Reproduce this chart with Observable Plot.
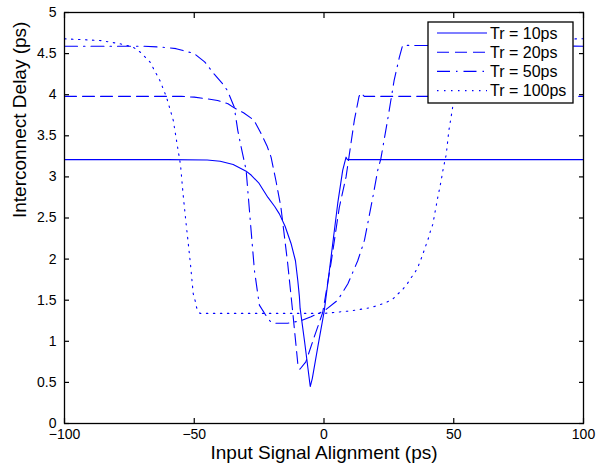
<!DOCTYPE html>
<html><head><meta charset="utf-8">
<script src="https://cdn.jsdelivr.net/npm/d3@7"></script>
<script src="https://cdn.jsdelivr.net/npm/@observablehq/plot@0.6"></script>
<style>body{margin:0;background:#fff;} svg{display:block}</style>
</head><body><div id="chart"></div>
<script>
const seriesNames = ["Tr = 10ps", "Tr = 20ps", "Tr = 50ps", "Tr = 100ps"];

const tr10X = [-100, -60, -45, -40, -35, -30, -28, -25, -21.6, -19, -17.2, -15, -12.7, -11, -10.1, -9.5, -9.2, -7.5, -5.3, -4.5, -2.4, 0.1, 2.7, 5.3, 7.2, 8.5, 9, 100];
const tr10Y = [3.21, 3.21, 3.205, 3.19, 3.15, 3.07, 3.02, 2.92, 2.75, 2.64, 2.55, 2.40, 2.19, 1.98, 1.74, 1.55, 1.40, 1.00, 0.45, 0.55, 0.93, 1.37, 2.02, 2.68, 3.08, 3.24, 3.21, 3.21];

const tr20X = [-100, -55, -50, -45, -41, -37, -34.6, -31, -27, -24.3, -22, -20.4, -18.5, -16.6, -14, -12, -10.1, -9.5, -9.3, -7, -3.8, -0.5, 2.7, 5.9, 8.5, 11.7, 13.5, 14.3, 15.5, 100];
const tr20Y = [3.98, 3.98, 3.97, 3.95, 3.93, 3.89, 3.84, 3.78, 3.69, 3.53, 3.38, 3.24, 2.95, 2.63, 1.95, 1.34, 0.73, 0.68, 0.66, 0.75, 1.05, 1.35, 1.95, 2.63, 3.0, 3.69, 3.98, 4.02, 3.98, 3.98];

const tr50X = [-100, -70, -63, -57, -50, -46, -42.3, -39, -37.2, -34.6, -33.2, -31.9, -30, -28.1, -26.8, -24.9, -22.3, -20.4, -18.5, -14, -8.9, -5, 0.1, 5.3, 9.2, 13, 15.6, 18.8, 20.7, 21.9, 24.5, 27, 29, 30.3, 100];
const tr50Y = [4.59, 4.59, 4.58, 4.56, 4.50, 4.40, 4.25, 4.13, 4.05, 3.85, 3.56, 3.36, 3.08, 2.35, 1.86, 1.44, 1.31, 1.23, 1.22, 1.22, 1.25, 1.30, 1.37, 1.50, 1.70, 1.98, 2.23, 2.75, 3.08, 3.22, 3.69, 4.17, 4.45, 4.60, 4.59];

const tr100X = [-100, -86.4, -78.7, -73.6, -70.9, -67.1, -63.2, -60.7, -58.1, -56.2, -55.3, -54.3, -53.2, -52.3, -51.4, -50.4, -49.7, -49.1, -47.8, -46, -20, 0, 10.4, 18.1, 23.8, 26.4, 28.3, 30.3, 32.1, 33.5, 35.1, 36.4, 37.4, 38.3, 39.3, 40.2, 41, 41.9, 42.9, 43.9, 45, 46, 47.1, 48.1, 49.4, 50.5, 51.5, 53, 55, 58, 65, 100];
const tr100Y = [4.68, 4.66, 4.62, 4.58, 4.52, 4.40, 4.17, 3.97, 3.69, 3.32, 3.15, 2.79, 2.45, 2.19, 1.92, 1.58, 1.50, 1.41, 1.34, 1.34, 1.34, 1.34, 1.37, 1.41, 1.47, 1.51, 1.57, 1.63, 1.70, 1.77, 1.84, 1.92, 2.0, 2.08, 2.17, 2.25, 2.34, 2.42, 2.59, 2.76, 2.93, 3.11, 3.27, 3.56, 3.81, 4.05, 4.3, 4.5, 4.6, 4.65, 4.67, 4.68];

const xTicks = [-100, -50, 0, 50, 100];
const yTicks = [0, 0.5, 1, 1.5, 2, 2.5, 3, 3.5, 4, 4.5, 5];
const xLabel = "Input Signal Alignment (ps)";
const yLabel = "Interconnect Delay (ps)";

// styles
const lineColor = "#0000ff";
const dashes = [undefined, "12,6", "13,6,1.5,6", "1.5,5.5"];
const FONT = "'Liberation Sans', Arial, Helvetica, sans-serif";

const seriesX = [tr10X, tr20X, tr50X, tr100X];
const seriesY = [tr10Y, tr20Y, tr50Y, tr100Y];
const rows = seriesNames.flatMap((name, s) => seriesX[s].map((x, i) => ({name, x, y: seriesY[s][i]})));

const lineMarks = seriesNames.map((name, s) =>
  Plot.line(rows.filter(r => r.name === name), {
    x: "x", y: "y", stroke: lineColor, strokeWidth: 1.1,
    ...(dashes[s] ? {strokeDasharray: dashes[s]} : {})
  })
);

const plot = Plot.plot({
  width: 598, height: 468,
  marginLeft: 64, marginRight: 15, marginTop: 12, marginBottom: 45,
  style: {fontFamily: FONT, fontSize: "14px", color: "black", background: "white", overflow: "visible"},
  x: {domain: [-100, 100]},
  y: {domain: [0, 5]},
  marks: [
    ...lineMarks,
    Plot.frame({stroke: "black", strokeWidth: 1.3}),
    Plot.axisX({ticks: xTicks, tickSize: -5, tickPadding: 11, label: null, strokeWidth: 1.2, fontSize: 14}),
    Plot.axisX({anchor: "top", ticks: xTicks, tickSize: -5, tickFormat: () => "", label: null, strokeWidth: 1.2}),
    Plot.axisY({ticks: yTicks, tickSize: -5, tickPadding: 13, tickFormat: d => String(d), label: null, strokeWidth: 1.2, fontSize: 14}),
    Plot.axisY({anchor: "right", ticks: yTicks, tickSize: -5, tickFormat: () => "", label: null, strokeWidth: 1.2}),
    Plot.text([xLabel], {frameAnchor: "bottom", dy: 35, text: d => d, fontSize: 19, fill: "black"}),
    Plot.text([yLabel], {frameAnchor: "left", dx: -45, rotate: -90, text: d => d, fontSize: 19, fill: "black"})
  ]
});

document.getElementById("chart").appendChild(plot);

// legend box inside the axes (upper right)
const svg = d3.select(plot);
const lg = svg.append("g").attr("font-family", FONT).attr("font-size", 16).attr("text-anchor", "start");
lg.append("rect").attr("x", 428).attr("y", 22).attr("width", 145).attr("height", 81)
  .attr("fill", "white").attr("stroke", "black").attr("stroke-width", 1.3);
seriesNames.forEach((name, i) => {
  const cy = 33 + i * 19.2;
  const ln = lg.append("line").attr("x1", 437).attr("x2", 487).attr("y1", cy).attr("y2", cy)
    .attr("stroke", lineColor).attr("stroke-width", 1.1);
  if (dashes[i]) ln.attr("stroke-dasharray", dashes[i]);
  lg.append("text").attr("x", 490).attr("y", cy).attr("dy", "0.36em")
    .attr("text-anchor", "start").attr("fill", "black").text(name);
});
</script>
</body></html>
